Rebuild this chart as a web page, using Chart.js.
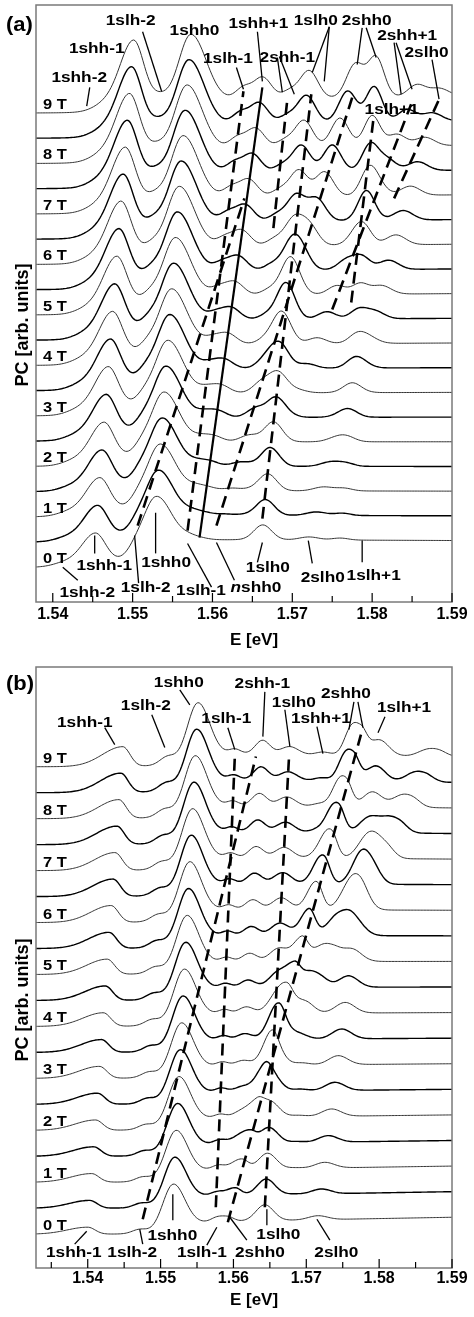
<!DOCTYPE html>
<html>
<head>
<meta charset="utf-8">
<script src="https://cdn.jsdelivr.net/npm/chart.js@4.4.1/dist/chart.umd.min.js"></script>
<style>
body { margin: 0; background: #fff; }
canvas { display: block; }
</style>
</head>
<body>
<canvas id="chartA" width="474" height="655"></canvas>
<canvas id="chartB" width="474" height="662"></canvas>
<script>
var fields = [0, 0.5, 1, 1.5, 2, 2.5, 3, 3.5, 4, 4.5, 5, 5.5, 6, 6.5, 7, 7.5, 8, 8.5, 9];
var energyTicks = [1.54, 1.55, 1.56, 1.57, 1.58, 1.59];
var energyMinorTicks = [1.535, 1.545, 1.555, 1.565, 1.575, 1.585];

// panel (a): transitions, energy (eV) at 0 T and 9 T, peak height at 0 / 3 / 6 / 9 T, low/high side width (eV)
var aNames  = ['1shh-2', '1shh-1', '1slh-2', '1shh0', '1slh-1', '1shh+1', '2shh-1', '1slh0', '2shh0', '1slh+1', '2shh+1', '2slh0'];
var aE0     = [1.5415, 1.5453, 1.5504, 1.5529, 1.5569, 1.5584, 1.5640, 1.5663, 1.5605, 1.5760, 1.5631, 1.5721];
var aE9     = [1.5465, 1.5501, 1.5534, 1.5573, 1.5639, 1.5663, 1.5697, 1.5721, 1.5779, 1.5805, 1.5856, 1.5884];
var aAmp0   = [4, 32, 7, 50, 3, 2, 0, 15, 0, 2, 0, 3];
var aAmp3   = [5, 45, 7, 56, 5, 8, 3, 20, 8, 4, 3, 6];
var aAmp6   = [5, 57, 7, 62, 9, 16, 7, 26, 20, 14, 12, 10];
var aAmp9   = [6, 66, 6, 67, 12, 22, 8, 28, 34, 40, 12, 8];
var aWidthL = [0.0015, 0.0017, 0.0010, 0.0015, 0.0010, 0.0011, 0.0010, 0.0011, 0.0011, 0.0010, 0.0011, 0.0012];
var aWidthR = [0.0015, 0.0013, 0.0010, 0.0019, 0.0010, 0.0011, 0.0010, 0.0011, 0.0011, 0.0010, 0.0011, 0.0012];
// panel (a): absorption edge (eV) and continuum level at 1.56 / 1.59 eV, [0 T, 9 T]
var aEdge     = [1.5505, 1.5490];
var aContLow  = [28, 13];
var aContHigh = [27, 17];
// panel (a): fan lines [E, level, E, level]
var aGuides = [
  [1.55063, 42, 1.564, 372],
  [1.55688, 37, 1.56388, 480],
  [1.5605, 42, 1.57775, 480],
  [1.56625, 49, 1.57238, 477],
  [1.56763, 342, 1.56938, 472],
  [1.575, 260, 1.58488, 467],
  [1.57738, 267, 1.58013, 450],
  [1.58275, 372, 1.5885, 474]
];
var aSolid = [[1.55838, 30, 1.56625, 484]];
var aLabels = [
  ['1shh-2', 1.54331, 489], ['1shh-1', 1.5455, 519], ['1slh-2', 1.54975, 547], ['1shh0', 1.55775, 537],
  ['1shh+1', 1.56575, 544], ['1slh-1', 1.56194, 509], ['1slh0', 1.57294, 547], ['2shh-1', 1.56938, 510],
  ['2shh0', 1.57931, 547], ['2shh+1', 1.58438, 532], ['2slh0', 1.58681, 515], ['1slh+1', 1.58244, 457],
  ['1shh-1', 1.54644, -3], ['1shh-2', 1.54431, -30], ['1slh-2', 1.55163, -25], ['1shh0', 1.55419, 0],
  ['1slh-1', 1.55856, -28], ['nshh0', 1.56544, -25], ['1slh0', 1.56694, -5], ['2slh0', 1.57381, -15],
  ['1slh+1', 1.58019, -13]
];
var aPointers = [
  [1.54463, 484, 1.54425, 465], [1.55125, 540, 1.55363, 480], [1.56563, 540, 1.56625, 490], [1.563, 504, 1.56388, 482],
  [1.57463, 545, 1.5725, 499], [1.57463, 545, 1.574, 490], [1.56813, 514, 1.56875, 479], [1.56838, 515, 1.57025, 477],
  [1.57875, 544, 1.57813, 507], [1.57925, 544, 1.5805, 514], [1.58275, 529, 1.58363, 477], [1.583, 529, 1.585, 482],
  [1.5875, 512, 1.58838, 472],
  [1.54525, 14, 1.54525, 32], [1.54125, 0, 1.54313, -13], [1.55075, -16, 1.55025, 32], [1.55288, 14, 1.55288, 55],
  [1.55988, -20, 1.55688, 24], [1.56275, -13, 1.5605, 25], [1.56563, 5, 1.56625, 25], [1.5725, 4, 1.572, 27],
  [1.57875, 5, 1.57875, 27]
];

// panel (b)
var bNames  = ['1shh-1', '1slh-2', '1shh0', '1slh-1', '2shh-1', '1slh0', '2shh0', '1shh+1', '2slh0', 'P', 'Q', '2shh0\''];
var bE0     = [1.5400, 1.5471, 1.5517, 1.5576, 1.5600, 1.5643, 1.5592, 1.5680, 1.5716, 1.5557, 1.5541, 1.5600];
var bE9     = [1.5448, 1.5509, 1.5551, 1.5602, 1.5640, 1.5677, 1.5775, 1.5723, 1.5800, 1.5881, 1.5863, 1.5760];
var bAmp0   = [7, 4, 44, 3, 0, 16, 5, 0, 4, 0, 0, 0];
var bAmp3   = [12, 5, 48, 4, 5, 15, 16, 2, 9, 3, 3, 0];
var bAmp6   = [17, 6, 52, 5, 10, 12, 26, 3, 14, 16, 16, 0];
var bAmp9   = [20, 7, 54, 5, 14, 8, 24, 3, 16, 6, 5, 18];
var bWidthL = [0.0028, 0.0010, 0.0014, 0.0008, 0.0010, 0.0012, 0.0012, 0.0010, 0.0013, 0.0012, 0.0012, 0.0009];
var bWidthR = [0.0010, 0.0010, 0.0016, 0.0008, 0.0010, 0.0012, 0.0008, 0.0010, 0.0013, 0.0011, 0.0011, 0.0009];
var bEdge     = [1.5515, 1.5530];
var bContLow  = [13, 13];
var bContHigh = [17, 10];
var bGuides = [
  [1.54755, 15, 1.56308, 480],
  [1.55758, 27, 1.56019, 480],
  [1.56431, 27, 1.56761, 477],
  [1.55923, 12, 1.5775, 502]
];
var bLabels = [
  ['1shh-1', 1.53959, 510], ['1slh-2', 1.54797, 527], ['1shh0', 1.5525, 550], ['2shh-1', 1.56397, 549],
  ['1slh-1', 1.55902, 514], ['1slh0', 1.5683, 530], ['1shh+1', 1.572, 514], ['2shh0', 1.57544, 539],
  ['1slh+1', 1.58341, 525],
  ['1shh-1', 1.53808, -23], ['1slh-2', 1.54611, -23], ['1shh0', 1.55161, -6], ['1slh-1', 1.55566, -23],
  ['2shh0', 1.56363, -23], ['1slh0', 1.56617, -5], ['2slh0', 1.57413, -23]
];
var bPointers = [
  [1.54234, 509, 1.54371, 492], [1.54879, 522, 1.55058, 489], [1.55264, 547, 1.55401, 532], [1.56431, 545, 1.56404, 500],
  [1.55923, 509, 1.56019, 487], [1.56706, 527, 1.56775, 490], [1.57146, 510, 1.57228, 483], [1.57654, 535, 1.57585, 507],
  [1.57709, 535, 1.57777, 509], [1.5808, 520, 1.57984, 504],
  [1.53821, -10, 1.53986, 3], [1.54755, -10, 1.54714, 5], [1.55168, 14, 1.55168, 40], [1.55635, -11, 1.55772, 7],
  [1.56184, -6, 1.5595, 17], [1.56459, 9, 1.56459, 25], [1.57324, -6, 1.57146, 15]
];

function ampAt(p, i, B) {
  var pts = [p.amp0[i], p.amp3[i], p.amp6[i], p.amp9[i]];
  var j = Math.min(2, Math.floor(B / 3));
  return pts[j] + (pts[j + 1] - pts[j]) * (B - 3 * j) / 3;
}

function spectrum(p, B, E) {
  var f = B / 9;
  var edge = p.edge[0] + (p.edge[1] - p.edge[0]) * f;
  var lo = p.contLow[0] + (p.contLow[1] - p.contLow[0]) * f;
  var hi = p.contHigh[0] + (p.contHigh[1] - p.contHigh[0]) * f;
  var s = (lo + (hi - lo) * (E - 1.56) / 0.03) / (1 + Math.exp(-(E - edge) / p.edgeWidth));
  for (var i = 0; i < p.e0.length; i++) {
    var ec = p.e0[i] + (p.e9[i] - p.e0[i]) * f;
    var d = (E - ec) / (E < ec ? p.widthL[i] : p.widthR[i]);
    s += ampAt(p, i, B) * Math.exp(-0.5 * d * d);
  }
  return s;
}

function drawText(ctx, text, x, y, size, sx) {
  ctx.save();
  ctx.translate(x, y);
  ctx.scale(sx, 1);
  ctx.fillStyle = '#000';
  ctx.textBaseline = 'alphabetic';
  if (text.charAt(0) === 'n') {
    ctx.font = 'italic bold ' + size + 'px "Liberation Sans"';
    var w1 = ctx.measureText('n').width;
    ctx.font = 'bold ' + size + 'px "Liberation Sans"';
    var w2 = ctx.measureText(text.slice(1)).width;
    ctx.textAlign = 'left';
    ctx.font = 'italic bold ' + size + 'px "Liberation Sans"';
    ctx.fillText('n', -(w1 + w2) / 2, 0);
    ctx.font = 'bold ' + size + 'px "Liberation Sans"';
    ctx.fillText(text.slice(1), -(w1 + w2) / 2 + w1, 0);
  } else {
    ctx.font = 'bold ' + size + 'px "Liberation Sans"';
    ctx.textAlign = 'center';
    ctx.fillText(text, 0, 0);
  }
  ctx.restore();
}

function makePanel(id, p) {
  var datasets = [];
  p.guides.forEach(function (g) {
    datasets.push({data: [{x: g[0], y: g[1]}, {x: g[2], y: g[3]}], borderColor: '#000', borderWidth: 2.6,
      borderDash: [12, 7], pointRadius: 0, order: 0});
  });
  p.solid.forEach(function (g) {
    datasets.push({data: [{x: g[0], y: g[1]}, {x: g[2], y: g[3]}], borderColor: '#000', borderWidth: 2.2,
      pointRadius: 0, order: 0});
  });
  fields.forEach(function (B, k) {
    var pts = [];
    for (var i = 0; ; i++) {
      var E = p.xMin + i * 0.0002;
      if (E > 1.5901) break;
      pts.push({x: E, y: k * p.step + spectrum(p, B, E)});
    }
    datasets.push({data: pts, borderColor: k % 2 ? '#000' : '#333', borderWidth: k % 2 ? 1.4 : 1.0,
      pointRadius: 0, order: 1});
  });

  var decor = {
    id: 'decor' + id,
    afterDatasetsDraw: function (chart) {
      var ctx = chart.ctx, a = chart.chartArea;
      var xs = chart.scales.x, ys = chart.scales.y;
      ctx.save();
      // frame
      ctx.strokeStyle = '#7a7a7a';
      ctx.lineWidth = 1.5;
      ctx.strokeRect(a.left, a.top, a.right - a.left, a.bottom - a.top);
      // inward ticks
      ctx.strokeStyle = '#000';
      ctx.lineWidth = 1.2;
      energyTicks.concat(energyMinorTicks).forEach(function (v, i) {
        if (v < p.xMin || v > 1.59) return;
        var x = xs.getPixelForValue(v);
        ctx.beginPath();
        ctx.moveTo(x, a.bottom);
        ctx.lineTo(x, a.bottom - (i < energyTicks.length ? 9 : 6));
        ctx.stroke();
      });
      // pointers
      ctx.lineWidth = 1.3;
      p.pointers.forEach(function (q) {
        ctx.beginPath();
        ctx.moveTo(xs.getPixelForValue(q[0]), ys.getPixelForValue(q[1]));
        ctx.lineTo(xs.getPixelForValue(q[2]), ys.getPixelForValue(q[3]));
        ctx.stroke();
      });
      // transition labels
      p.labels.forEach(function (l) {
        drawText(ctx, l[0], xs.getPixelForValue(l[1]), ys.getPixelForValue(l[2]), 15, 1.15);
      });
      // field labels
      ctx.font = 'bold 15px "Liberation Sans"';
      for (var k = 0; k < fields.length; k += 2) {
        ctx.save();
        ctx.translate(a.left + 7, ys.getPixelForValue(k * p.step) - 4);
        ctx.scale(1.1, 1);
        ctx.textAlign = 'left';
        ctx.fillText(fields[k] + ' T', 0, 0);
        ctx.restore();
      }
      // panel letter
      ctx.save();
      ctx.font = 'bold 20px "Liberation Sans"';
      ctx.translate(6, p.letterY);
      ctx.scale(1.1, 1);
      ctx.textAlign = 'left';
      ctx.fillText(p.letter, 0, 0);
      ctx.restore();
      // axis titles
      ctx.font = 'bold 17px "Liberation Sans"';
      ctx.textAlign = 'center';
      ctx.fillText('E [eV]', 254, p.xTitleY);
      ctx.save();
      ctx.translate(28, p.yTitleMid);
      ctx.rotate(-Math.PI / 2);
      ctx.font = 'bold 18px "Liberation Sans"';
      ctx.fillText('PC [arb. units]', 0, 0);
      ctx.restore();
      ctx.restore();
    }
  };

  new Chart(document.getElementById(id), {
    type: 'line',
    data: {datasets: datasets},
    options: {
      responsive: false,
      animation: false,
      events: [],
      layout: {padding: {left: 36, right: 22, top: p.top, bottom: p.bottom}},
      plugins: {legend: {display: false}, tooltip: {enabled: false}},
      scales: {
        x: {
          type: 'linear', min: p.xMin, max: 1.59,
          grid: {display: false, drawTicks: false},
          border: {display: false},
          afterBuildTicks: function (s) { s.ticks = energyTicks.map(function (v) { return {value: v}; }); },
          ticks: {padding: p.tickPad, color: '#000', maxRotation: 0, autoSkip: false,
            font: {family: 'Liberation Sans', size: 16, weight: 'bold', lineHeight: 1},
            callback: function (v) { return v.toFixed(2); }}
        },
        y: {display: false, min: p.yMin, max: p.yMax}
      }
    },
    plugins: [decor]
  });
}

makePanel('chartA', {
  xMin: 1.5379, yMin: -35, yMax: 567, step: 25.45, top: 5, bottom: 27, tickPad: 5,
  e0: aE0, e9: aE9, amp0: aAmp0, amp3: aAmp3, amp6: aAmp6, amp9: aAmp9, widthL: aWidthL, widthR: aWidthR,
  edge: aEdge, edgeWidth: 0.0022, contLow: aContLow, contHigh: aContHigh,
  guides: aGuides, solid: aSolid, labels: aLabels, pointers: aPointers,
  letter: '(a)', letterY: 31, xTitleY: 645, yTitleMid: 325
});
makePanel('chartB', {
  xMin: 1.5329, yMin: -34, yMax: 570, step: 26.1, top: 12, bottom: 27, tickPad: 3,
  e0: bE0, e9: bE9, amp0: bAmp0, amp3: bAmp3, amp6: bAmp6, amp9: bAmp9, widthL: bWidthL, widthR: bWidthR,
  edge: bEdge, edgeWidth: 0.0018, contLow: bContLow, contHigh: bContHigh,
  guides: bGuides, solid: [], labels: bLabels, pointers: bPointers,
  letter: '(b)', letterY: 35, xTitleY: 650, yTitleMid: 345
});
</script>
</body>
</html>
